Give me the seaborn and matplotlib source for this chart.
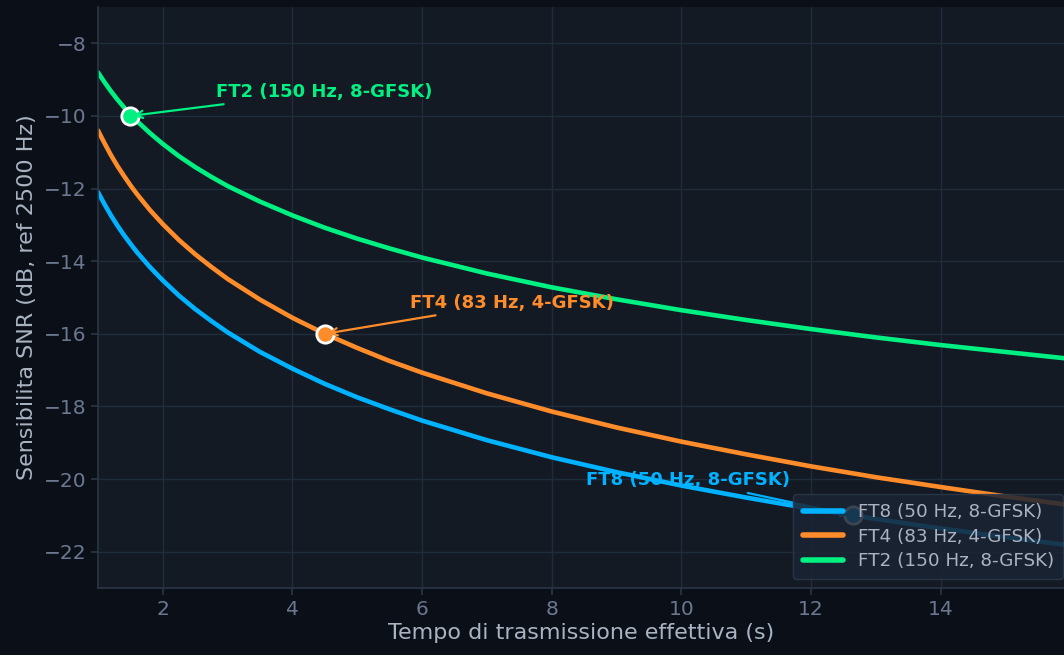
import matplotlib
matplotlib.use("Agg")
import matplotlib.pyplot as plt
import seaborn as sns
import pandas as pd

# ─────────────────────────────────────────────
# Data
# ─────────────────────────────────────────────
t_s = [1.0, 1.1, 1.2, 1.3, 1.4, 1.5, 1.6, 1.8, 2.0, 2.25, 2.5, 2.75, 3.0,
       3.5, 4.0, 4.5, 5.0, 5.5, 6.0, 7.0, 8.0, 9.0, 10.0, 11.0, 12.0,
       13.0, 14.0, 15.0, 16.0]

snr_ft8 = [-12.10, -12.43, -12.74, -13.02, -13.28, -13.52, -13.75, -14.16,
           -14.53, -14.95, -15.32, -15.65, -15.96, -16.50, -16.96, -17.38,
           -17.75, -18.08, -18.39, -18.93, -19.40, -19.81, -20.18, -20.51,
           -20.82, -21.10, -21.36, -21.60, -21.83]
snr_ft4 = [-10.40, -10.75, -11.08, -11.38, -11.65, -11.91, -12.15, -12.59,
           -12.98, -13.42, -13.81, -14.16, -14.49, -15.06, -15.56, -16.00,
           -16.39, -16.75, -17.07, -17.64, -18.14, -18.58, -18.97, -19.32,
           -19.65, -19.95, -20.22, -20.48, -20.72]
snr_ft2 = [-8.80, -9.07, -9.32, -9.55, -9.76, -9.98, -10.14, -10.47,
           -10.77, -11.11, -11.41, -11.68, -11.93, -12.36, -12.74, -13.08,
           -13.38, -13.65, -13.90, -14.34, -14.72, -15.05, -15.35, -15.62,
           -15.87, -16.10, -16.31, -16.50, -16.69]

modes = ["FT8 (50 Hz, 8-GFSK)", "FT4 (83 Hz, 4-GFSK)", "FT2 (150 Hz, 8-GFSK)"]
colors = ["#00B2FF", "#FF8C2B", "#00F082"]

# operating points
op_t = [12.64, 4.5, 1.5]
op_snr = [-21.0, -16.0, -10.0]
label_xy = [(8.52, -20.03), (5.81, -15.14), (2.82, -9.33)]

BG = "#0b1018"
AX_BG = "#131a24"
GRID = "#212c3a"
TICK = "#6b7890"
LABEL = "#a9b3c2"

df = pd.DataFrame({
    "t": t_s * 3,
    "snr": snr_ft8 + snr_ft4 + snr_ft2,
    "mode": [m for m in modes for _ in t_s],
})

sns.set_theme(style="darkgrid")
plt.rcParams["font.family"] = ["DejaVu Sans"]

fig = plt.figure(figsize=(10.64, 6.55), dpi=100, facecolor=BG)
ax = fig.add_axes([98 / 1064, 67 / 655, 1 - 98 / 1064, (588 - 7) / 655])
ax.set_facecolor(AX_BG)

sns.lineplot(data=df, x="t", y="snr", hue="mode", palette=dict(zip(modes, colors)),
             linewidth=3.3, ax=ax, legend=True)

for m, c, x, y, (tx, ty) in zip(modes, colors, op_t, op_snr, label_xy):
    ax.plot(x, y, "o", ms=12.5, color=c, mec="white", mew=2, zorder=5)
    ax.annotate(m, xy=(x, y), xytext=(tx, ty), color=c, fontsize=13,
                fontweight="bold", ha="left", va="center", zorder=6,
                arrowprops=dict(arrowstyle="->", color=c, lw=1.6))

ax.set_xlim(1, 15.9)
ax.set_ylim(-23, -7)
ax.set_xticks([2, 4, 6, 8, 10, 12, 14])
ax.set_yticks([-8, -10, -12, -14, -16, -18, -20, -22])

ax.grid(True, color=GRID, linewidth=1)
for side in ["top", "right"]:
    ax.spines[side].set_visible(False)
for side in ["left", "bottom"]:
    ax.spines[side].set_visible(True)
    ax.spines[side].set_color("#2b3646")
    ax.spines[side].set_linewidth(1.2)

ax.tick_params(colors=TICK, labelsize=14.5, length=5, width=1.2,
               bottom=True, left=True, labelcolor=TICK)
ax.tick_params(axis="both", color="#2b3646")

ax.set_xlabel("Tempo di trasmissione effettiva (s)", color=LABEL, fontsize=16, labelpad=3)
ax.set_ylabel("Sensibilita SNR (dB, ref 2500 Hz)", color=LABEL, fontsize=16, labelpad=5)

leg = ax.legend(loc="lower right", bbox_to_anchor=(0.999, 0.015), borderaxespad=0,
                fontsize=13.2, frameon=True, facecolor="#1a2433",
                edgecolor="#2d3a4c", framealpha=0.85, borderpad=0.5,
                handlelength=2.2, labelspacing=0.35)
leg.set_title(None)
for line in leg.get_lines():
    line.set_linewidth(4)
for txt in leg.get_texts():
    txt.set_color(LABEL)
leg.set_zorder(10)

fig.savefig("out.png", dpi=100, facecolor=BG)
